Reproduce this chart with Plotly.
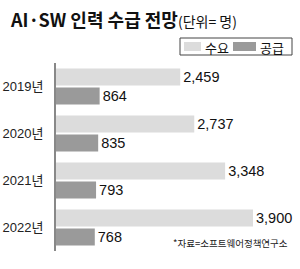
import plotly.graph_objects as go

years = ["2019년", "2020년", "2021년", "2022년"]
demand = [2459, 2737, 3348, 3900]
supply = [864, 835, 793, 768]
series_names = ["수요", "공급"]
title_main = "AI·SW 인력 수급 전망"
title_unit = "(단위= 명)"
source_note = "*자료=소프트웨어정책연구소"

C_DEMAND = "#dcdcdc"
C_SUPPLY = "#9a9a9a"
W, H = 300, 269
L, R, T, B = 56, 0, 63, 18
PW, PH = W - L - R, H - T - B

def px(x):
    return (x - L) / PW

def py(y):
    return (H - B - y) / PH

NARROW = "Liberation Sans, Arial, sans-serif"
NUM_FONT = dict(family=NARROW, size=14.5, color="#111")

fig = go.Figure()
fig.add_trace(go.Bar(y=years, x=demand, orientation="h", name=series_names[0],
                     marker=dict(color=C_DEMAND, line=dict(width=0)),
                     texttemplate="%{x:,}", textposition="outside", textfont=NUM_FONT,
                     cliponaxis=False))
fig.add_trace(go.Bar(y=years, x=supply, orientation="h", name=series_names[1],
                     marker=dict(color=C_SUPPLY, line=dict(width=0)),
                     texttemplate="%{x:,}", textposition="outside", textfont=NUM_FONT,
                     cliponaxis=False))

shapes = [
    dict(type="rect", xref="paper", yref="paper", x0=px(180), x1=px(292), y0=py(38), y1=py(55),
         line=dict(color="#444", width=1), fillcolor="white"),
    dict(type="rect", xref="paper", yref="paper", x0=px(184), x1=px(201), y0=py(42), y1=py(51),
         line=dict(width=0), fillcolor=C_DEMAND),
    dict(type="rect", xref="paper", yref="paper", x0=px(233), x1=px(256), y0=py(42), y1=py(51),
         line=dict(width=0), fillcolor=C_SUPPLY),
]
annotations = [
    dict(xref="paper", yref="paper", x=px(203), y=py(47), text=series_names[0], showarrow=False,
         xanchor="left", yanchor="middle", font=dict(family="Noto Sans CJK KR", size=13, color="#111")),
    dict(xref="paper", yref="paper", x=px(258), y=py(47), text=series_names[1], showarrow=False,
         xanchor="left", yanchor="middle", font=dict(family="Noto Sans CJK KR", size=13, color="#111")),
    dict(xref="paper", yref="paper", x=px(290), y=py(243), text=source_note, showarrow=False,
         xanchor="right", yanchor="middle", font=dict(family="Noto Sans CJK KR", size=9.5, color="#222")),
]

fig.update_layout(
    width=W, height=H,
    margin=dict(l=L, r=R, t=T, b=B, pad=0),
    paper_bgcolor="white", plot_bgcolor="white",
    barmode="group", bargap=0.19, bargroupgap=0.1,
    showlegend=False,
    title=dict(
        text=f"<b>{title_main}</b><span style='font-size:14px;font-weight:normal'>{title_unit}</span>",
        x=11 / W, xanchor="left", xref="container",
        y=1 - 21 / H, yanchor="middle", yref="container",
        font=dict(family="Noto Sans CJK KR", size=18, color="#111"),
    ),
    xaxis=dict(range=[0, PW / (197 / 3900)], visible=False, fixedrange=True),
    yaxis=dict(autorange="reversed", showline=True, linecolor="#888", linewidth=2,
               showgrid=False, zeroline=False, ticks="", ticklabelstandoff=8,
               tickfont=dict(family=NARROW + ", Noto Sans CJK KR", size=13, color="#222")),
    shapes=shapes, annotations=annotations,
)

fig.write_html("out.html")
